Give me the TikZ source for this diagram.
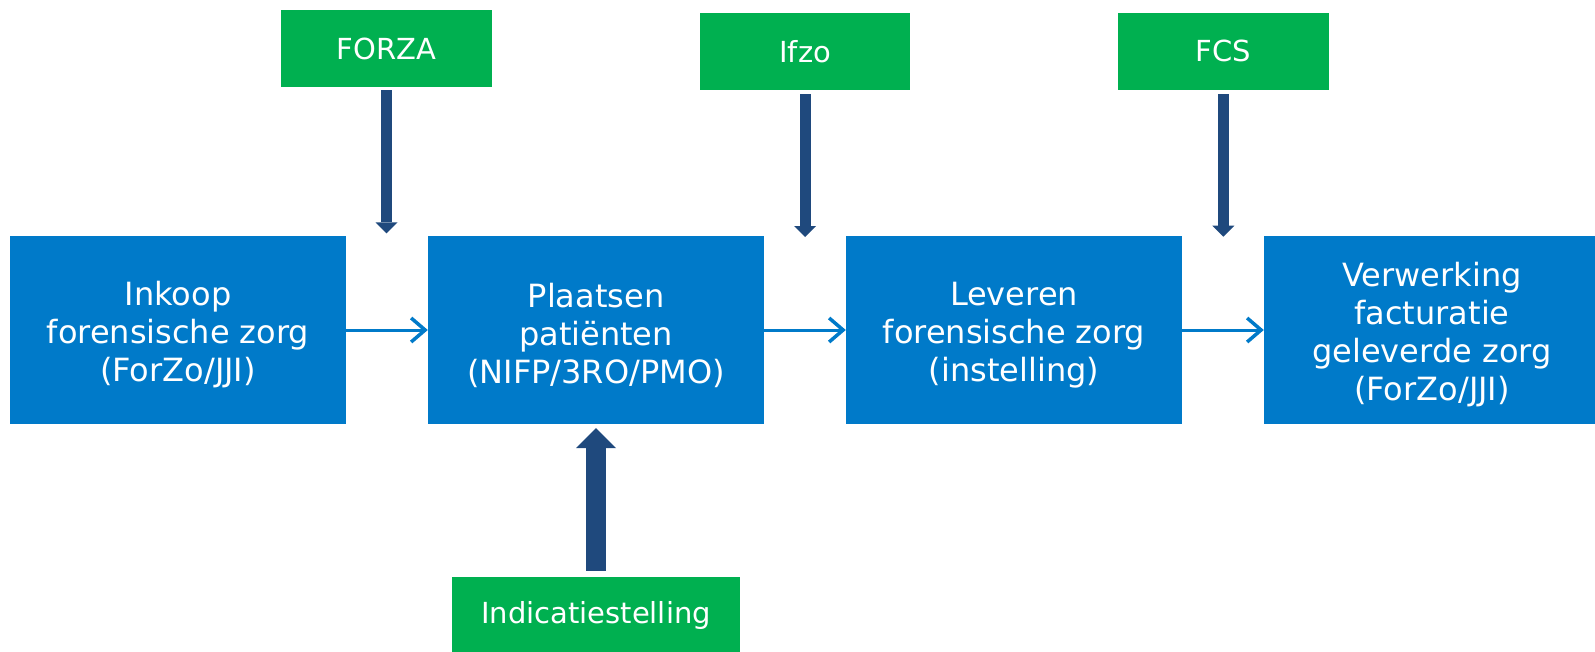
\documentclass[tikz,border=0pt]{standalone}
\usepackage{fontspec}
\setmainfont{DejaVu Sans}
\usetikzlibrary{arrows.meta}
\definecolor{boxblue}{RGB}{0,122,201}
\definecolor{boxgreen}{RGB}{0,176,80}
\definecolor{arrdark}{RGB}{31,73,125}
\begin{document}
\begin{tikzpicture}[x=1pt,y=-1pt,
  stepbox/.style={fill=boxblue, minimum width=336pt, minimum height=188pt, inner sep=0pt},
  steptext/.style={text=white, inner sep=0pt, align=center, font=\fontsize{32}{38}\selectfont},
  srcbox/.style={fill=boxgreen, text=white, minimum height=77pt, inner sep=0pt,
    font=\fontsize{29}{35}\selectfont},
  flow/.style={draw=boxblue, line width=3pt,
    -{Straight Barb[length=14pt,width=24pt,line width=3.5pt]}},
  feed/.style={draw=arrdark, line width=11pt,
    -{Triangle[length=11pt,width=22pt,line width=0pt]}},
  bigfeed/.style={draw=arrdark, line width=20pt,
    -{Triangle[length=20pt,width=40pt,line width=0pt]}}]
\clip (0,0) rectangle (1595,651);
\node[stepbox] (b1) at (178,330) {};
\node[stepbox] (b2) at (596,330) {};
\node[stepbox] (b3) at (1014,330) {};
\node[stepbox] (b4) at (1432,330) {};
\node[steptext] (b1t) at ([yshift=-5pt]b1.center) {Inkoop\\forensische zorg\\(ForZo/JJI)};
\node[steptext] (b2t) at ([yshift=-5pt]b2.center) {Plaatsen\\patiënten\\(NIFP/3RO/PMO)};
\node[steptext] (b3t) at ([yshift=-5pt]b3.center) {Leveren\\forensische zorg\\(instelling)};
\node[steptext] (b4t) at ([yshift=-5pt]b4.center) {Verwerking\\facturatie\\geleverde zorg\\(ForZo/JJI)};
\node[srcbox, minimum width=211.5pt] (forza) at (386.5,48.5) {FORZA};
\node[srcbox, minimum width=210.6pt] (ifzo) at (805.1,51.4) {Ifzo};
\node[srcbox, minimum width=210.5pt] (fcs) at (1223.3,51.4) {FCS};
\node[srcbox, minimum width=288pt] (ind) at (596,615.3) {Indicatiestelling};
\coordinate (t1) at (386.5,233.3);
\coordinate (t2) at (805.1,237);
\coordinate (t3) at (1223.3,236.7);
\draw[flow] (b1) -- (b2);
\draw[flow] (b2) -- (b3);
\draw[flow] (b3) -- (b4);
\draw[feed, shorten <=3pt] (forza) -- (t1);
\draw[feed, shorten <=4pt] (ifzo) -- (t2);
\draw[feed, shorten <=4pt] (fcs) -- (t3);
\draw[bigfeed, shorten <=6pt, shorten >=4pt] (ind) -- (b2);
\end{tikzpicture}
\end{document}
